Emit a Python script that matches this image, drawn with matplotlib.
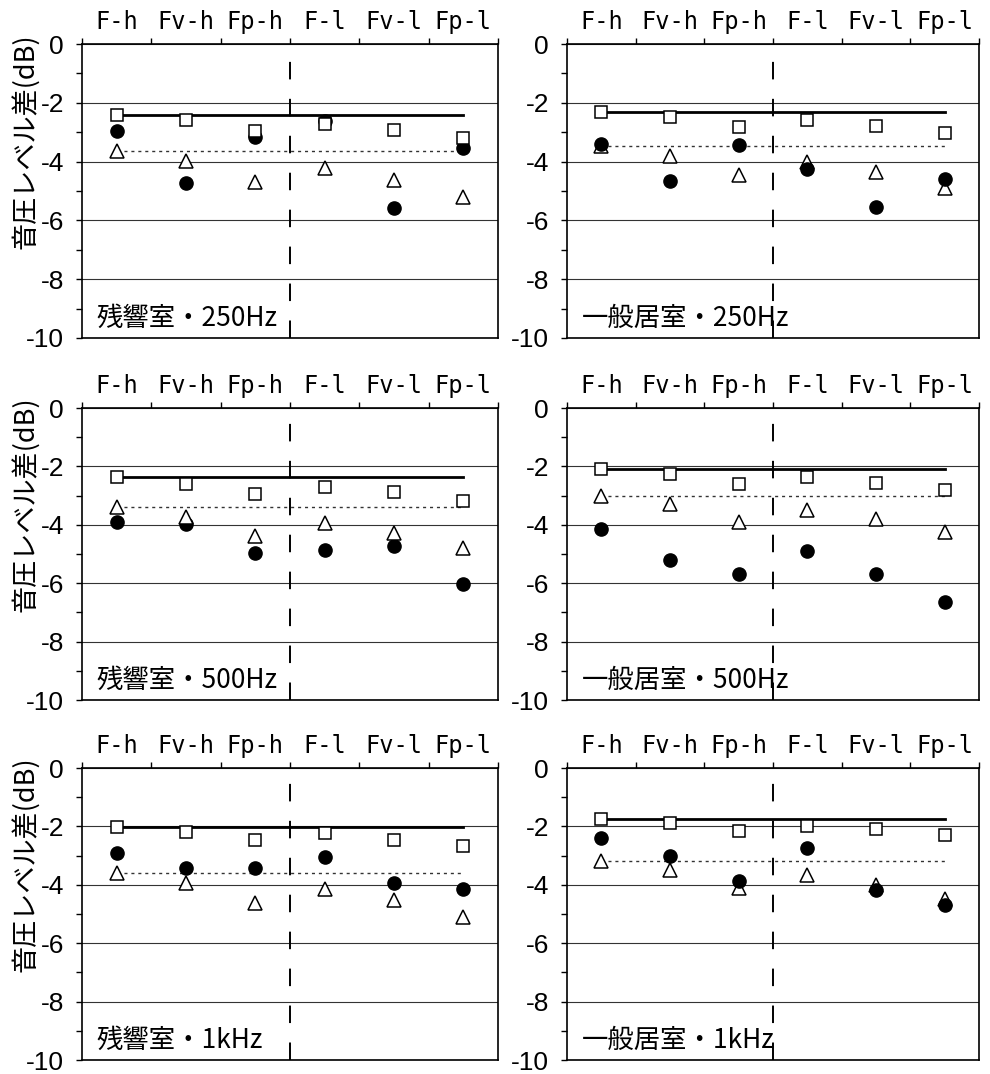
import matplotlib
matplotlib.use("Agg")
import matplotlib.pyplot as plt
import numpy as np

plt.rcParams["font.family"] = ["Liberation Sans", "Noto Sans CJK JP"]
plt.rcParams["axes.unicode_minus"] = False

categories = ["F-h", "Fv-h", "Fp-h", "F-l", "Fv-l", "Fp-l"]
titles = ["残響室・250Hz", "一般居室・250Hz",
          "残響室・500Hz", "一般居室・500Hz",
          "残響室・1kHz", "一般居室・1kHz"]

# open squares
sq_rev250 = [-2.40, -2.60, -2.97, -2.72, -2.91, -3.19]
sq_liv250 = [-2.32, -2.47, -2.82, -2.59, -2.79, -3.04]
sq_rev500 = [-2.38, -2.59, -2.93, -2.70, -2.87, -3.19]
sq_liv500 = [-2.08, -2.27, -2.61, -2.38, -2.57, -2.82]
sq_rev1k = [-2.03, -2.18, -2.48, -2.23, -2.45, -2.68]
sq_liv1k = [-1.76, -1.90, -2.15, -1.98, -2.09, -2.30]

# filled circles
ci_rev250 = [-2.97, -4.73, -3.15, -2.62, -5.58, -3.54]
ci_liv250 = [-3.41, -4.66, -3.45, -4.24, -5.53, -4.60]
ci_rev500 = [-3.90, -3.96, -4.98, -4.87, -4.73, -6.03]
ci_liv500 = [-4.15, -5.19, -5.67, -4.90, -5.70, -6.66]
ci_rev1k = [-2.92, -3.42, -3.42, -3.05, -3.94, -4.13]
ci_liv1k = [-2.39, -3.03, -3.86, -2.75, -4.17, -4.68]

# open triangles
tr_rev250 = [-3.63, -3.98, -4.69, -4.23, -4.63, -5.21]
tr_liv250 = [-3.48, -3.82, -4.47, -4.01, -4.37, -4.90]
tr_rev500 = [-3.40, -3.72, -4.38, -3.93, -4.29, -4.81]
tr_liv500 = [-3.02, -3.28, -3.92, -3.51, -3.81, -4.26]
tr_rev1k = [-3.61, -3.95, -4.64, -4.16, -4.51, -5.11]
tr_liv1k = [-3.17, -3.50, -4.10, -3.68, -4.00, -4.48]

squares = [sq_rev250, sq_liv250, sq_rev500, sq_liv500, sq_rev1k, sq_liv1k]
circles = [ci_rev250, ci_liv250, ci_rev500, ci_liv500, ci_rev1k, ci_liv1k]
triangles = [tr_rev250, tr_liv250, tr_rev500, tr_liv500, tr_rev1k, tr_liv1k]
circles_above_triangles = [True, True, False, True, True, True]

W, H = 990, 1074
fig = plt.figure(figsize=(W / 100, H / 100), dpi=100)

col_left = [82, 567]
col_width = [416, 412]
row_top = [44, 408, 768]
row_height = [294, 292, 292]

x = np.arange(len(categories)) + 0.5

for i in range(6):
    r, c = divmod(i, 2)
    left = col_left[c] / W
    bottom = (H - row_top[r] - row_height[r]) / H
    ax = fig.add_axes([left, bottom, col_width[c] / W, row_height[r] / H])
    ax.set_xlim(0, 6)
    ax.set_ylim(-10, 0)

    # category labels on top, between the boundary ticks
    ax.xaxis.tick_top()
    ax.set_xticks(np.arange(7))
    ax.set_xticklabels([])
    ax.set_xticks(x, minor=True)
    ax.set_xticklabels(categories, minor=True,
                       family=["DejaVu Sans Mono"], fontsize=17)
    ax.tick_params(axis="x", which="major", direction="out", length=4,
                   width=1, top=True, bottom=False)
    ax.tick_params(axis="x", which="minor", length=0, pad=7,
                   top=True, bottom=False, labeltop=True, labelbottom=False)

    ax.set_yticks(np.arange(-10, 1, 2))
    ax.set_yticks(np.arange(-9, 0, 2), minor=True)
    ax.tick_params(axis="y", which="both", direction="out", length=4,
                   width=1, left=True, right=False, labelsize=19, pad=9)
    ax.grid(axis="y", which="major", color="#333333", lw=0.8, zorder=0)
    ax.set_axisbelow(True)
    for sp in ax.spines.values():
        sp.set_linewidth(1.2)
        sp.set_color("black")

    sq, ci, tr = squares[i], circles[i], triangles[i]

    # reference levels through the first square and the first triangle
    ax.plot([x[0], x[-1]], [sq[0], sq[0]], color="black", lw=2.0, zorder=2)
    ax.plot([x[0], x[-1]], [tr[0], tr[0]], color="#333333", lw=1.0,
            linestyle=(0, (2.2, 2.8)), zorder=2)

    zc, zt = (4, 3) if circles_above_triangles[i] else (3, 4)
    ax.plot(x, tr, linestyle="none", marker="^", ms=9.5, mfc="white",
            mec="black", mew=1.1, zorder=zt)
    ax.plot(x, ci, linestyle="none", marker="o", ms=9.5, mfc="black",
            mec="black", zorder=zc)
    ax.plot(x, sq, linestyle="none", marker="s", ms=8.5, mfc="white",
            mec="black", mew=1.1, zorder=5)

    ax.text(0.035, 0.04, titles[i], transform=ax.transAxes, fontsize=19,
            family=["Noto Sans CJK JP"], ha="left", va="baseline", zorder=6)

    # divider between the h and l groups
    ax.axvline(3, color="black", lw=1.4, linestyle=(0, (9, 10)), zorder=7)

    if c == 0:
        ax.text(-0.137, 0.67, "音圧レベル差(dB)", transform=ax.transAxes,
                rotation=90, ha="center", va="center", fontsize=19.5,
                family=["Noto Sans CJK JP"])

fig.savefig("out.png", dpi=100)
